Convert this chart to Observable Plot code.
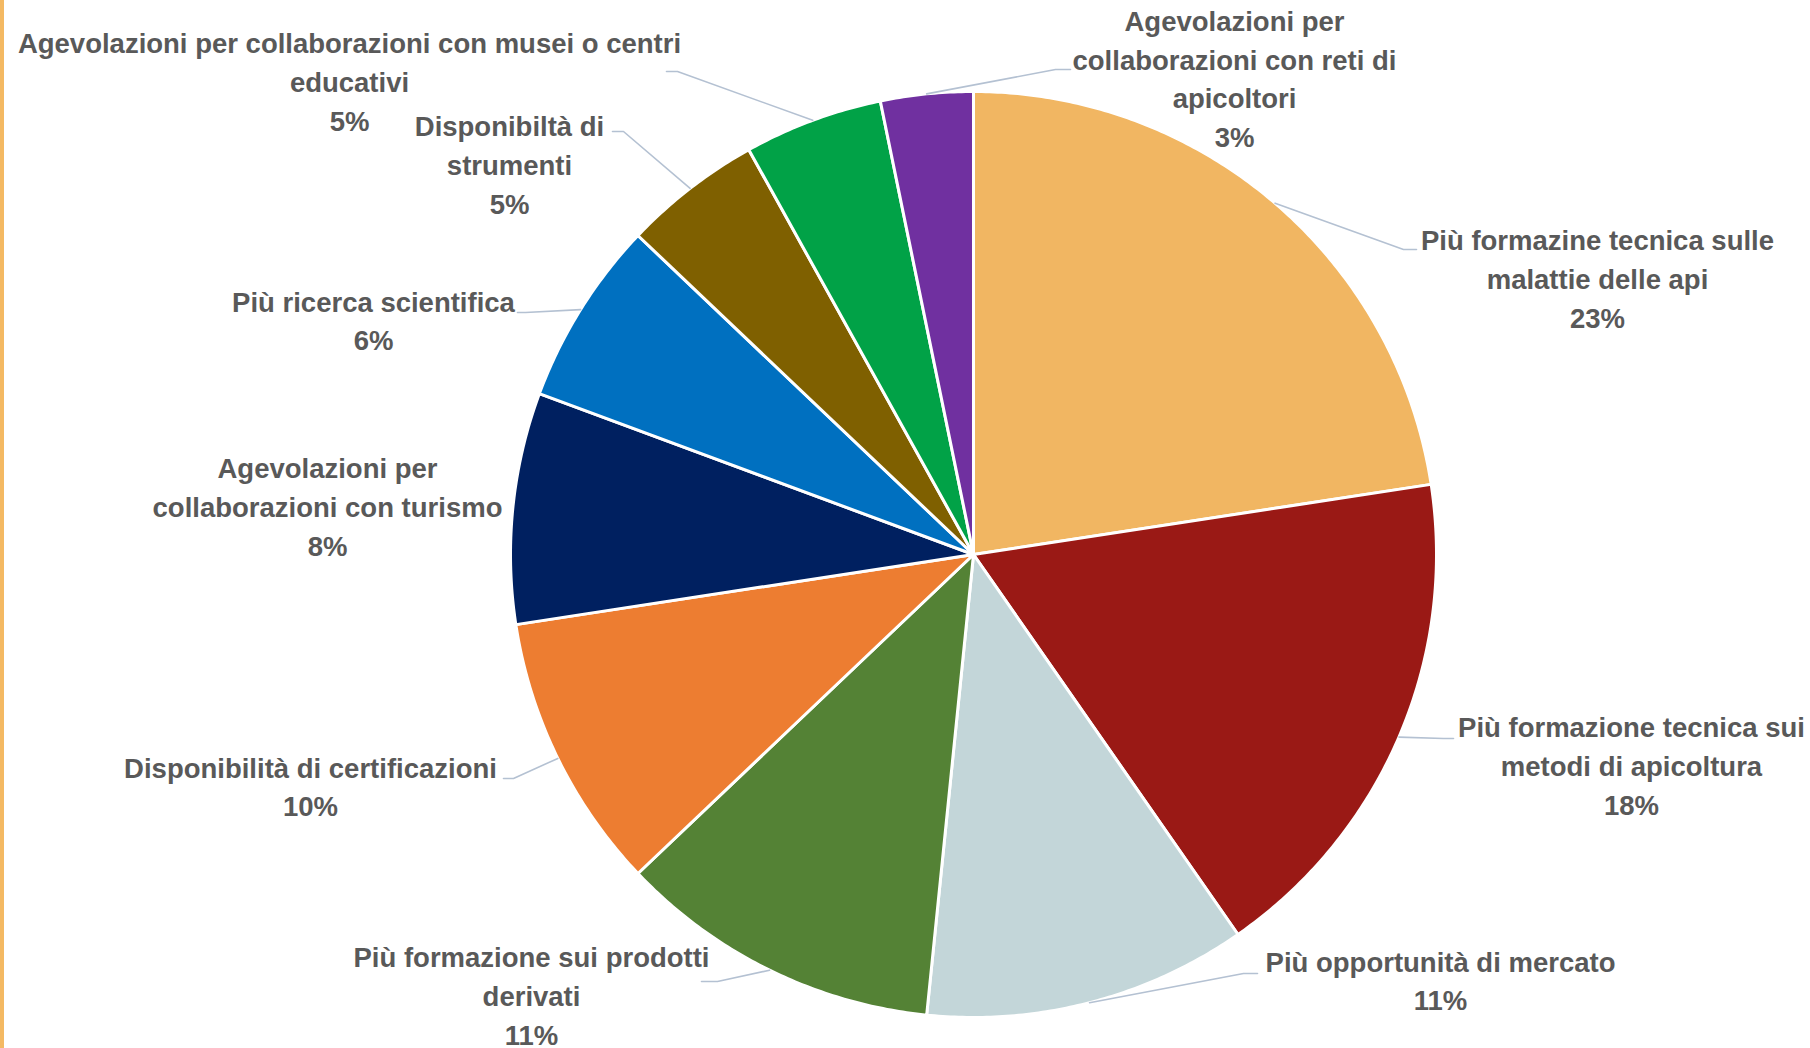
<!DOCTYPE html>
<html>
<head>
<meta charset="utf-8">
<script src="https://cdn.jsdelivr.net/npm/d3@7"></script>
<script src="https://cdn.jsdelivr.net/npm/@observablehq/plot@0.6"></script>
<style>
  html, body { margin: 0; padding: 0; background: #ffffff; overflow: hidden; }
  #wrap { position: relative; width: 1810px; height: 1048px; }
  #edge { position: absolute; left: 0; top: 0; width: 4px; height: 1048px; background: #F4B963; }
</style>
</head>
<body>
<div id="wrap"><div id="edge"></div></div>
<script>
// ---- data ----
const categories = [
  "Più formazine tecnica sulle\nmalattie delle api",
  "Più formazione tecnica sui\nmetodi di apicoltura",
  "Più opportunità di mercato",
  "Più formazione sui prodotti\nderivati",
  "Disponibilità di certificazioni",
  "Agevolazioni per\ncollaborazioni con turismo",
  "Più ricerca scientifica",
  "Disponibiltà di\nstrumenti",
  "Agevolazioni per collaborazioni con musei o centri\neducativi",
  "Agevolazioni per\ncollaborazioni con reti di\napicoltori"
];
const counts = [14, 11, 7, 7, 6, 5, 4, 3, 3, 2];
const colors = ["#F1B662", "#9A1915", "#C3D6D9", "#548235", "#ED7D31",
                "#002060", "#0070C0", "#7F6000", "#01A247", "#7030A0"];

// ---- layout (pixel offsets from pie centre) ----
const labelCenter = [[624, -274], [658, 213], [467, 428], [-442, 443], [-663, 234],
                     [-646, -46], [-600, -232], [-464, -388], [-624, -471], [261, -474]];
const leaderElbow = [[430, -305], [470, 184], [270, 419], [-256, 427], [-460, 224],
                     null, [-448, -242], [-350, -423], [-296, -483], [82, -485]];
const leaderEnd   = [[443, -305], [480, 184], [284, 419], [-272, 427], [-470, 224],
                     null, [-456, -242], [-361, -423], [-307, -483], [97, -485]];

const W = 1810, H = 1048, CX = 973, CY = 554, R = 463;
const total = d3.sum(counts);
const pct = d3.format(".0%");

const arcs = d3.pie().sort(null).value(d => d)(counts);
const polar = (a, r) => [r * Math.sin(a), -r * Math.cos(a)];

const sliceMarks = arcs.map((a, i) => {
  const pts = [[0, 0]];
  const n = Math.max(2, Math.ceil((a.endAngle - a.startAngle) / (Math.PI / 360)));
  for (let k = 0; k <= n; k++) {
    pts.push(polar(a.startAngle + (a.endAngle - a.startAngle) * k / n, R));
  }
  pts.push([0, 0]);
  return Plot.line(pts, {x: d => d[0], y: d => d[1], fill: colors[i], stroke: "#ffffff",
                         strokeWidth: 3, strokeLinejoin: "round", curve: "linear"});
});

const leaders = [];
arcs.forEach((a, i) => {
  if (!leaderElbow[i]) return;
  const mid = (a.startAngle + a.endAngle) / 2;
  const s = polar(mid, R);
  [s, leaderElbow[i], leaderEnd[i]].forEach(p => leaders.push({i, x: p[0], y: p[1]}));
});

const labels = categories.map((c, i) => ({
  text: c + "\n" + pct(counts[i] / total),
  x: labelCenter[i][0], y: labelCenter[i][1]
}));

const chart = Plot.plot({
  width: W, height: H, margin: 0,
  x: {domain: [-CX, W - CX], range: [0, W], axis: null},
  y: {domain: [-CY, H - CY], range: [0, H], axis: null},
  style: {background: "transparent", overflow: "visible"},
  marks: [
    ...sliceMarks,
    Plot.line(leaders, {x: "x", y: "y", z: "i", stroke: "#B4C1D2", strokeWidth: 1.6}),
    Plot.text(labels, {x: "x", y: "y", text: "text", fill: "#595959", fontSize: 27.5,
                       fontWeight: "bold", fontFamily: "Liberation Sans, Arial, sans-serif",
                       lineHeight: 1.405, textAnchor: "middle", dy: -4})
  ]
});
document.getElementById("wrap").appendChild(chart);
</script>
</body>
</html>
